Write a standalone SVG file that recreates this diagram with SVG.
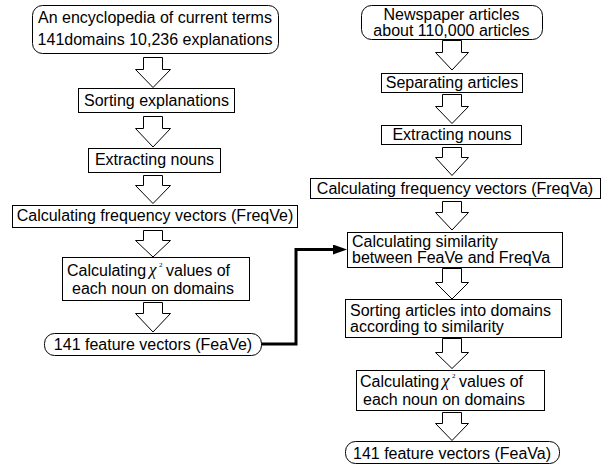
<svg xmlns="http://www.w3.org/2000/svg" width="608" height="465" viewBox="0 0 608 465">
<style>
.box{fill:#fff;stroke:#000;stroke-width:1}
.arr{fill:#fff;stroke:#000;stroke-width:1}
.t{font-family:"Liberation Sans",Arial,sans-serif;font-size:16px;fill:#000}
.c{text-anchor:middle}
.chi{font-family:"Liberation Serif","Times New Roman",serif;font-style:italic;font-size:17px;fill:#000}
.sup{font-family:"Liberation Serif","Times New Roman",serif;font-size:7px;fill:#000}
.link{fill:none;stroke:#000;stroke-width:3}
</style>
<defs>
<marker id="ah" viewBox="0 0 14 10" refX="0" refY="5" markerWidth="14" markerHeight="10" markerUnits="userSpaceOnUse" orient="auto">
<path d="M0,0 L14,5 L0,10 Z" fill="#000"/>
</marker>
</defs>

<g id="connectors">
<path class="arr" d="M143.5,57.5 H162.5 V69.5 H170.5 L153,87.5 L135.5,69.5 H143.5 Z"/>
<path class="arr" d="M143.5,116.5 H162.5 V128.5 H170.5 L153,147 L135.5,128.5 H143.5 Z"/>
<path class="arr" d="M143.5,175.5 H162.5 V185.5 H170.5 L153,203.5 L135.5,185.5 H143.5 Z"/>
<path class="arr" d="M143.5,230.5 H162.5 V240.5 H170.5 L153,257 L135.5,240.5 H143.5 Z"/>
<path class="arr" d="M143.5,302.5 H162.5 V313.5 H170.5 L153,332 L135.5,313.5 H143.5 Z"/>

<path class="arr" d="M442.5,40.5 H461.5 V52.5 H468.5 L452,70 L435.5,52.5 H442.5 Z"/>
<path class="arr" d="M442.5,94.5 H461.5 V106.5 H468.5 L452,123.5 L435.5,106.5 H442.5 Z"/>
<path class="arr" d="M442.5,147.5 H461.5 V157.5 H468.5 L452,175.5 L435.5,157.5 H442.5 Z"/>
<path class="arr" d="M442.5,201.5 H461.5 V212.5 H468.5 L452,230 L435.5,212.5 H442.5 Z"/>
<path class="arr" d="M442.5,268.5 H461.5 V282.5 H468.5 L452,299 L435.5,282.5 H442.5 Z"/>
<path class="arr" d="M442.5,338.5 H461.5 V352.5 H468.5 L452,368.5 L435.5,352.5 H442.5 Z"/>
<path class="arr" d="M442.5,412.5 H461.5 V423.5 H468.5 L452,440.5 L435.5,423.5 H442.5 Z"/>

<path class="link" d="M261,344 H296 V249.5 H333" marker-end="url(#ah)"/>
</g>

<g id="n-encyclopedia">
<rect class="box" x="32.5" y="5.5" width="246" height="48" rx="10"/>
<text class="t c" x="155" y="23">An encyclopedia of current terms</text>
<text class="t c" x="155" y="45">141domains 10,236 explanations</text>
</g>
<g id="n-sorting-expl">
<rect class="box" x="78.5" y="88.5" width="156" height="24"/>
<text class="t c" x="156.5" y="106">Sorting explanations</text>
</g>
<g id="n-extract-left">
<rect class="box" x="88.5" y="148.5" width="132" height="24"/>
<text class="t c" x="154.5" y="165">Extracting nouns</text>
</g>
<g id="n-freqve">
<rect class="box" x="12.5" y="205.5" width="285" height="22"/>
<text class="t c" x="155" y="220.5">Calculating frequency vectors (FreqVe)</text>
</g>
<g id="n-chi-left">
<rect class="box" x="62.5" y="257.5" width="187" height="43"/>
<text class="t" x="67" y="276">Calculating</text>
<text class="chi" x="149" y="275">χ</text>
<text class="sup" x="159" y="267">2</text>
<text class="t" x="166" y="276">values of</text>
<text class="t" x="72" y="294">each noun on domains</text>
</g>
<g id="n-feave">
<rect class="box" x="44.5" y="333.5" width="217" height="22" rx="10"/>
<text class="t c" x="153" y="350">141 feature vectors (FeaVe)</text>
</g>

<g id="n-newspaper">
<rect class="box" x="361.5" y="5.5" width="181" height="34" rx="10"/>
<text class="t c" x="451.5" y="20">Newspaper articles</text>
<text class="t c" x="451.5" y="35.5">about 110,000 articles</text>
</g>
<g id="n-separating">
<rect class="box" x="381.5" y="73.5" width="141" height="19"/>
<text class="t c" x="452" y="87.5">Separating articles</text>
</g>
<g id="n-extract-right">
<rect class="box" x="381.5" y="125.5" width="140" height="19"/>
<text class="t c" x="452" y="140">Extracting nouns</text>
</g>
<g id="n-freqva">
<rect class="box" x="310.5" y="178.5" width="290" height="20"/>
<text class="t c" x="455" y="193.5">Calculating frequency vectors (FreqVa)</text>
</g>
<g id="n-similarity">
<rect class="box" x="347.5" y="232.5" width="215" height="35"/>
<text class="t" x="352" y="247">Calculating similarity</text>
<text class="t" x="352" y="263">between FeaVe and FreqVa</text>
</g>
<g id="n-sorting-art">
<rect class="box" x="345.5" y="299.5" width="216" height="38"/>
<text class="t" x="350" y="316">Sorting articles into domains</text>
<text class="t" x="350" y="332">according to similarity</text>
</g>
<g id="n-chi-right">
<rect class="box" x="356.5" y="370.5" width="188" height="40"/>
<text class="t" x="360" y="387">Calculating</text>
<text class="chi" x="442" y="386">χ</text>
<text class="sup" x="452" y="378">2</text>
<text class="t" x="459" y="387">values of</text>
<text class="t" x="363" y="405">each noun on domains</text>
</g>
<g id="n-feava">
<rect class="box" x="345.5" y="441.5" width="214" height="22" rx="10"/>
<text class="t c" x="452" y="459">141 feature vectors (FeaVa)</text>
</g>
</svg>
